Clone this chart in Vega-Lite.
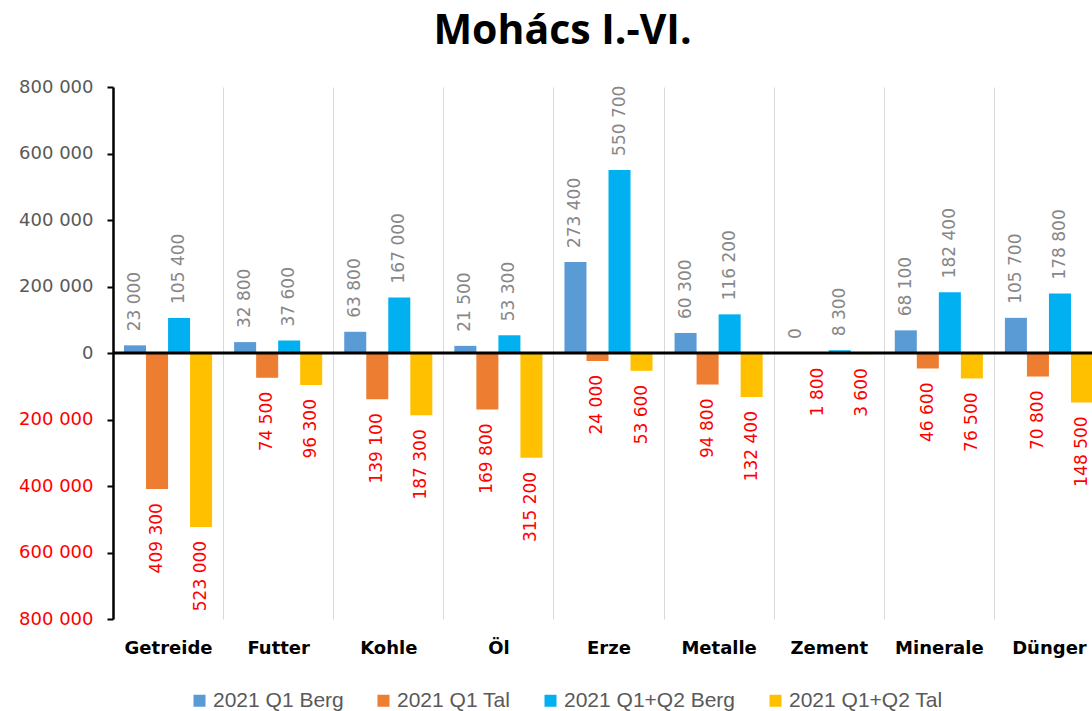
{
  "$schema": "https://vega.github.io/schema/vega-lite/v6.json",
  "autosize": {"type": "none"},
  "width": 979,
  "height": 532,
  "padding": {"left": 113, "top": 87, "right": 0, "bottom": 92},
  "background": "white",
  "title": {"text": "Mohács I.-VI.", "font": "Open Sans", "fontSize": 41, "fontWeight": "bold", "color": "#000000", "anchor": "middle", "dx": -40, "offset": 25},
  "data": {"values": [
    {"cat": "Getreide", "series": "2021 Q1 Berg", "value": 23000},
    {"cat": "Getreide", "series": "2021 Q1 Tal", "value": -409300},
    {"cat": "Getreide", "series": "2021 Q1+Q2 Berg", "value": 105400},
    {"cat": "Getreide", "series": "2021 Q1+Q2 Tal", "value": -523000},
    {"cat": "Futter", "series": "2021 Q1 Berg", "value": 32800},
    {"cat": "Futter", "series": "2021 Q1 Tal", "value": -74500},
    {"cat": "Futter", "series": "2021 Q1+Q2 Berg", "value": 37600},
    {"cat": "Futter", "series": "2021 Q1+Q2 Tal", "value": -96300},
    {"cat": "Kohle", "series": "2021 Q1 Berg", "value": 63800},
    {"cat": "Kohle", "series": "2021 Q1 Tal", "value": -139100},
    {"cat": "Kohle", "series": "2021 Q1+Q2 Berg", "value": 167000},
    {"cat": "Kohle", "series": "2021 Q1+Q2 Tal", "value": -187300},
    {"cat": "Öl", "series": "2021 Q1 Berg", "value": 21500},
    {"cat": "Öl", "series": "2021 Q1 Tal", "value": -169800},
    {"cat": "Öl", "series": "2021 Q1+Q2 Berg", "value": 53300},
    {"cat": "Öl", "series": "2021 Q1+Q2 Tal", "value": -315200},
    {"cat": "Erze", "series": "2021 Q1 Berg", "value": 273400},
    {"cat": "Erze", "series": "2021 Q1 Tal", "value": -24000},
    {"cat": "Erze", "series": "2021 Q1+Q2 Berg", "value": 550700},
    {"cat": "Erze", "series": "2021 Q1+Q2 Tal", "value": -53600},
    {"cat": "Metalle", "series": "2021 Q1 Berg", "value": 60300},
    {"cat": "Metalle", "series": "2021 Q1 Tal", "value": -94800},
    {"cat": "Metalle", "series": "2021 Q1+Q2 Berg", "value": 116200},
    {"cat": "Metalle", "series": "2021 Q1+Q2 Tal", "value": -132400},
    {"cat": "Zement", "series": "2021 Q1 Berg", "value": 0},
    {"cat": "Zement", "series": "2021 Q1 Tal", "value": -1800},
    {"cat": "Zement", "series": "2021 Q1+Q2 Berg", "value": 8300},
    {"cat": "Zement", "series": "2021 Q1+Q2 Tal", "value": -3600},
    {"cat": "Minerale", "series": "2021 Q1 Berg", "value": 68100},
    {"cat": "Minerale", "series": "2021 Q1 Tal", "value": -46600},
    {"cat": "Minerale", "series": "2021 Q1+Q2 Berg", "value": 182400},
    {"cat": "Minerale", "series": "2021 Q1+Q2 Tal", "value": -76500},
    {"cat": "Dünger", "series": "2021 Q1 Berg", "value": 105700},
    {"cat": "Dünger", "series": "2021 Q1 Tal", "value": -70800},
    {"cat": "Dünger", "series": "2021 Q1+Q2 Berg", "value": 178800},
    {"cat": "Dünger", "series": "2021 Q1+Q2 Tal", "value": -148500}
  ]},
  "transform": [
    {"calculate": "replace(format(abs(datum.value), ','), ',', ' ')", "as": "lbl"}
  ],
  "layer": [
    {
      "mark": {"type": "bar"},
      "encoding": {
        "x": {"field": "cat", "type": "nominal",
          "sort": ["Getreide", "Futter", "Kohle", "Öl", "Erze", "Metalle", "Zement", "Minerale", "Dünger"],
          "scale": {"range": [0, 991], "paddingInner": 0, "paddingOuter": 0},
          "axis": {"title": null, "orient": "bottom", "domain": false, "ticks": false, "grid": true, "tickBand": "extent", "gridColor": "#D9D9D9", "gridWidth": 1, "labelAngle": 0, "labelFont": "DejaVu Sans", "labelFontSize": 18, "labelFontWeight": "bold", "labelColor": "#000000", "labelPadding": 20}
        },
        "xOffset": {"field": "series", "type": "nominal",
          "sort": ["2021 Q1 Berg", "2021 Q1 Tal", "2021 Q1+Q2 Berg", "2021 Q1+Q2 Tal"],
          "scale": {"paddingInner": 0, "paddingOuter": 0.5}
        },
        "y": {"field": "value", "type": "quantitative",
          "scale": {"domain": [-800000, 800000], "nice": false, "zero": true},
          "axis": {"title": null, "grid": false, "values": [-800000, -600000, -400000, -200000, 0, 200000, 400000, 600000, 800000],
            "labelExpr": "replace(format(abs(datum.value), ','), ',', ' ')",
            "labelColor": {"condition": {"test": "datum.value < 0", "value": "#FF0000"}, "value": "#595959"},
            "labelFont": "DejaVu Sans", "labelFontSize": 18, "labelPadding": 14,
            "domainColor": "#000000", "domainWidth": 2.5, "tickColor": "#000000", "tickWidth": 2, "tickSize": 6}
        },
        "color": {"field": "series", "type": "nominal",
          "scale": {"domain": ["2021 Q1 Berg", "2021 Q1 Tal", "2021 Q1+Q2 Berg", "2021 Q1+Q2 Tal"], "range": ["#5B9BD5", "#ED7D31", "#00B0F0", "#FFC000"]},
          "legend": {"title": null, "orient": "none", "direction": "horizontal", "legendX": 76, "legendY": 603, "symbolType": "square", "symbolSize": 144, "symbolStrokeWidth": 0, "labelFont": "Liberation Sans", "labelFontSize": 21, "labelColor": "#595959", "labelLimit": 400, "columnPadding": 29, "labelOffset": 3}
        }
      }
    },
    {
      "transform": [{"filter": "datum.value >= 0"}],
      "mark": {"type": "text", "angle": 270, "align": "left", "baseline": "middle", "dx": 14, "font": "DejaVu Sans", "fontSize": 17, "color": "#878787"},
      "encoding": {
        "x": {"field": "cat", "type": "nominal", "sort": ["Getreide", "Futter", "Kohle", "Öl", "Erze", "Metalle", "Zement", "Minerale", "Dünger"]},
        "xOffset": {"field": "series", "type": "nominal", "sort": ["2021 Q1 Berg", "2021 Q1 Tal", "2021 Q1+Q2 Berg", "2021 Q1+Q2 Tal"]},
        "y": {"field": "value", "type": "quantitative"},
        "text": {"field": "lbl"}
      }
    },
    {
      "transform": [{"filter": "datum.value < 0"}],
      "mark": {"type": "text", "angle": 270, "align": "right", "baseline": "middle", "dx": -14, "font": "DejaVu Sans", "fontSize": 17, "color": "#FF0000"},
      "encoding": {
        "x": {"field": "cat", "type": "nominal", "sort": ["Getreide", "Futter", "Kohle", "Öl", "Erze", "Metalle", "Zement", "Minerale", "Dünger"]},
        "xOffset": {"field": "series", "type": "nominal", "sort": ["2021 Q1 Berg", "2021 Q1 Tal", "2021 Q1+Q2 Berg", "2021 Q1+Q2 Tal"]},
        "y": {"field": "value", "type": "quantitative"},
        "text": {"field": "lbl"}
      }
    },
    {
      "data": {"values": [{}]},
      "mark": {"type": "rule", "color": "#000000", "strokeWidth": 3},
      "encoding": {"y": {"datum": 0}}
    }
  ],
  "config": {"view": {"stroke": null}}
}
